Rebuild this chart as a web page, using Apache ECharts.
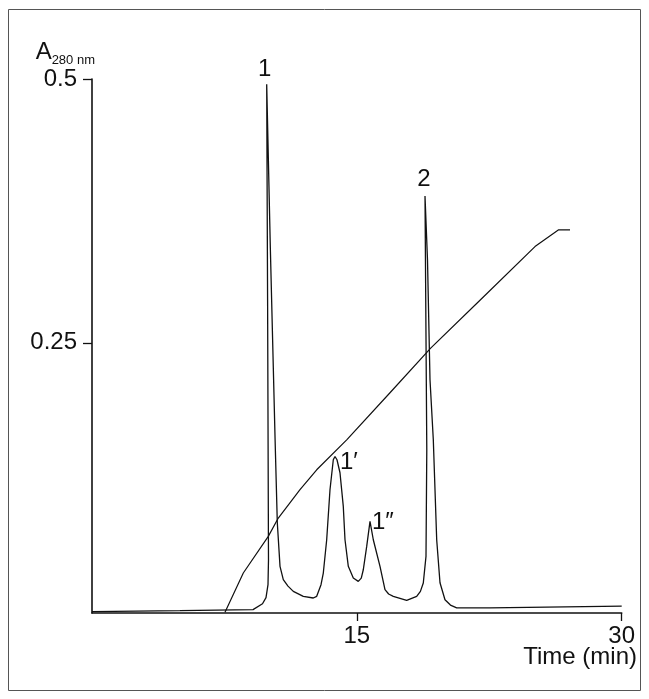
<!DOCTYPE html>
<html>
<head>
<meta charset="utf-8">
<script src="https://cdn.jsdelivr.net/npm/echarts@6/dist/echarts.min.js"></script>
<style>
html,body{margin:0;padding:0;background:#fff;}
#chart{width:649px;height:699px;}
</style>
</head>
<body>
<div id="chart"></div>
<script>
// Chromatogram trace (time in min, absorbance at 280 nm)
var traceTime = [0, 4.98, 9.12, 9.656, 9.855, 9.968, 9.996, 9.945, 9.894, 10.1, 10.37, 10.495, 10.648, 10.834, 11.1, 11.401, 11.967, 12.533, 12.726, 12.97, 13.1, 13.292, 13.479, 13.666, 13.762, 13.875, 14.045, 14.232, 14.329, 14.516, 14.799, 15.082, 15.25, 15.365, 15.558, 15.745, 15.932, 16.311, 16.594, 16.8, 17.064, 17.823, 18.389, 18.6, 18.763, 18.916, 18.961, 18.86, 19.001, 19.143, 19.33, 19.522, 19.709, 19.992, 20.3, 20.655, 22.541, 30];
var traceAbs = [-0.0047, -0.0038, -0.0028, 0.0028, 0.0085, 0.0208, 0.0445, 0.2907, 0.495, 0.34, 0.158, 0.0795, 0.0382, 0.0256, 0.0195, 0.0145, 0.0098, 0.0082, 0.0098, 0.0208, 0.0319, 0.0634, 0.1108, 0.1392, 0.1423, 0.1392, 0.1269, 0.095, 0.0634, 0.0382, 0.0272, 0.024, 0.027, 0.035, 0.0571, 0.0808, 0.0634, 0.0382, 0.0161, 0.012, 0.0098, 0.006, 0.0098, 0.0145, 0.0224, 0.0476, 0.1487, 0.3892, 0.3286, 0.215, 0.1581, 0.0634, 0.0227, 0.0066, 0.0015, -0.0012, -0.0012, 0.0005];

// Elution gradient line
var gradTime = [7.532, 8.569, 9.985, 10.551, 11.78, 12.726, 14.425, 16.877, 19.182, 21.974, 25.089, 26.409, 27.072];
var gradValue = [-0.0054, 0.0319, 0.0666, 0.084, 0.1108, 0.1297, 0.1581, 0.2027, 0.245, 0.2904, 0.3412, 0.357, 0.357];

// Peak annotations
var peakNames = ['1', '1\u2032', '1\u2033', '2'];
var peakTime = [9.894, 13.762, 15.745, 18.86];
var peakAbs = [0.495, 0.1423, 0.0808, 0.3892];

// Axis ticks
var xTicks = [15, 30];
var yTicks = [0.25, 0.5];

var FONT = 'Liberation Sans, Arial, Helvetica, sans-serif';
var INK = '#111';

function pairs(xs, ys) { return xs.map(function (x, i) { return [x, ys[i]]; }); }

var peakLabelCfg = [
  { position: 'top', distance: 3, offset: [-2, 0] },
  { position: 'right', distance: 5, offset: [0, 6] },
  { position: 'right', distance: 2, offset: [0, 1] },
  { position: 'top', distance: 5, offset: [-1, 0] }
];
var peakData = peakNames.map(function (n, i) {
  return { value: [peakTime[i], peakAbs[i]], name: n, label: peakLabelCfg[i] };
});

var chart = echarts.init(document.getElementById('chart'), null, { renderer: 'canvas' });
chart.setOption({
  animation: false,
  backgroundColor: '#fff',
  textStyle: { fontFamily: FONT },
  grid: { left: 92, right: 27.3, top: 79, bottom: 86, containLabel: false, outerBoundsMode: 'none' },
  xAxis: {
    type: 'value', min: 0, max: 30,
    axisLine: { show: true, onZero: false, lineStyle: { color: INK, width: 1.6 } },
    axisTick: { show: true, inside: false, length: 8, customValues: xTicks, lineStyle: { color: INK, width: 1.3 } },
    axisLabel: { show: true, customValues: xTicks, margin: 11, color: INK, fontSize: 24, fontFamily: FONT },
    splitLine: { show: false }
  },
  yAxis: {
    type: 'value', min: -0.006, max: 0.5,
    name: '{a|A}{s|280 nm}', nameLocation: 'end', nameGap: 13,
    nameTextStyle: {
      align: 'right', verticalAlign: 'bottom', padding: [0, -3, 0, 0],
      rich: {
        a: { fontSize: 24, fontFamily: FONT, color: INK, verticalAlign: 'bottom', lineHeight: 24 },
        s: { fontSize: 13, fontFamily: FONT, color: INK, verticalAlign: 'bottom', lineHeight: 13, padding: [0, 0, -3, 0] }
      }
    },
    axisLine: { show: true, onZero: false, lineStyle: { color: INK, width: 1.6 } },
    axisTick: { show: true, inside: false, length: 9, customValues: yTicks, lineStyle: { color: INK, width: 1.3 } },
    axisLabel: { show: true, customValues: yTicks, margin: 15, color: INK, fontSize: 24, fontFamily: FONT },
    splitLine: { show: false }
  },
  series: [
    {
      name: 'A280', type: 'line', data: pairs(traceTime, traceAbs),
      showSymbol: false, symbol: 'none', smooth: false,
      lineStyle: { color: INK, width: 1.3 }, z: 3
    },
    {
      name: 'Gradient', type: 'line', data: pairs(gradTime, gradValue),
      showSymbol: false, symbol: 'none', smooth: false,
      lineStyle: { color: INK, width: 1.2 }, z: 2
    },
    {
      name: 'Peaks', type: 'scatter', data: peakData, symbolSize: 0,
      itemStyle: { opacity: 1, color: INK },
      label: { show: true, formatter: '{b}', color: INK, opacity: 1, fontSize: 24, fontFamily: FONT },
      z: 4
    }
  ],
  graphic: [
    { type: 'rect', shape: { x: 8.5, y: 9.5, width: 632, height: 681 }, style: { fill: 'none', stroke: '#555', lineWidth: 1 }, silent: true, z: -1 },
    { type: 'text', x: 637, y: 645, style: { text: 'Time (min)', fill: INK, font: '24px ' + FONT, textAlign: 'right', textVerticalAlign: 'top' }, silent: true }
  ]
});
</script>
</body>
</html>
